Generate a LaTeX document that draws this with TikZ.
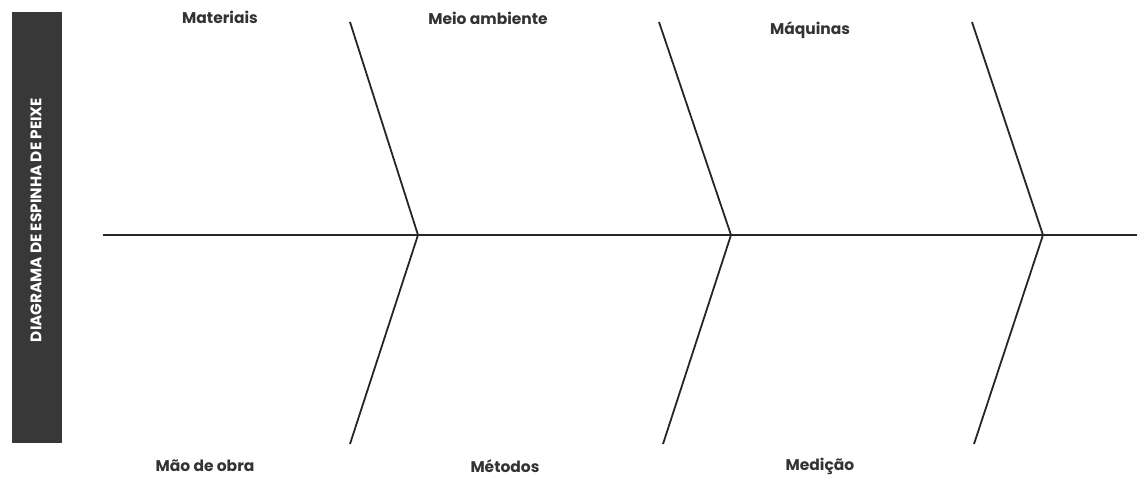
\documentclass[tikz,border=0pt]{standalone}
\usepackage{fontspec}
\setmainfont{Poppins}
\begin{document}
\begin{tikzpicture}[x=1pt,y=1pt,
  bone/.style={line width=1.8pt,draw=black!85},
  lbl/.style={font=\bfseries\fontsize{15.5}{17}\selectfont, text=black!80, inner sep=0pt},
  title/.style={font=\bfseries\fontsize{15.3}{17}\selectfont, text=white, rotate=90, inner sep=0pt}]
\useasboundingbox (0,0) rectangle (1137,477);
\node[fill=black!78, minimum width=50pt, minimum height=431pt, inner sep=0pt, anchor=south west] (box) at (12,34) {};
\node[title] (t) at (36,257) {DIAGRAMA DE ESPINHA DE PEIXE};
\coordinate (s) at (103,242);
\coordinate (e) at (1137,242);
\coordinate (j1) at (418,242);
\coordinate (j2) at (731,242);
\coordinate (j3) at (1043,242);
\coordinate (a1) at (350,455);
\coordinate (a2) at (659,455);
\coordinate (a3) at (972,455);
\coordinate (b1) at (350,33);
\coordinate (b2) at (663,33);
\coordinate (b3) at (974,33);
\draw[bone] (s) -- (e);
\draw[bone] (a1) -- (j1) -- (b1);
\draw[bone] (a2) -- (j2) -- (b2);
\draw[bone] (a3) -- (j3) -- (b3);
\node[lbl] (m1) at (220,460) {Materiais};
\node[lbl] (m2) at (488,459) {Meio ambiente};
\node[lbl] (m3) at (810,447) {Máquinas};
\node[lbl] (m4) at (205,11) {Mão de obra};
\node[lbl] (m5) at (505,11) {Métodos};
\node[lbl] (m6) at (820,11) {Medição};
\end{tikzpicture}
\end{document}
